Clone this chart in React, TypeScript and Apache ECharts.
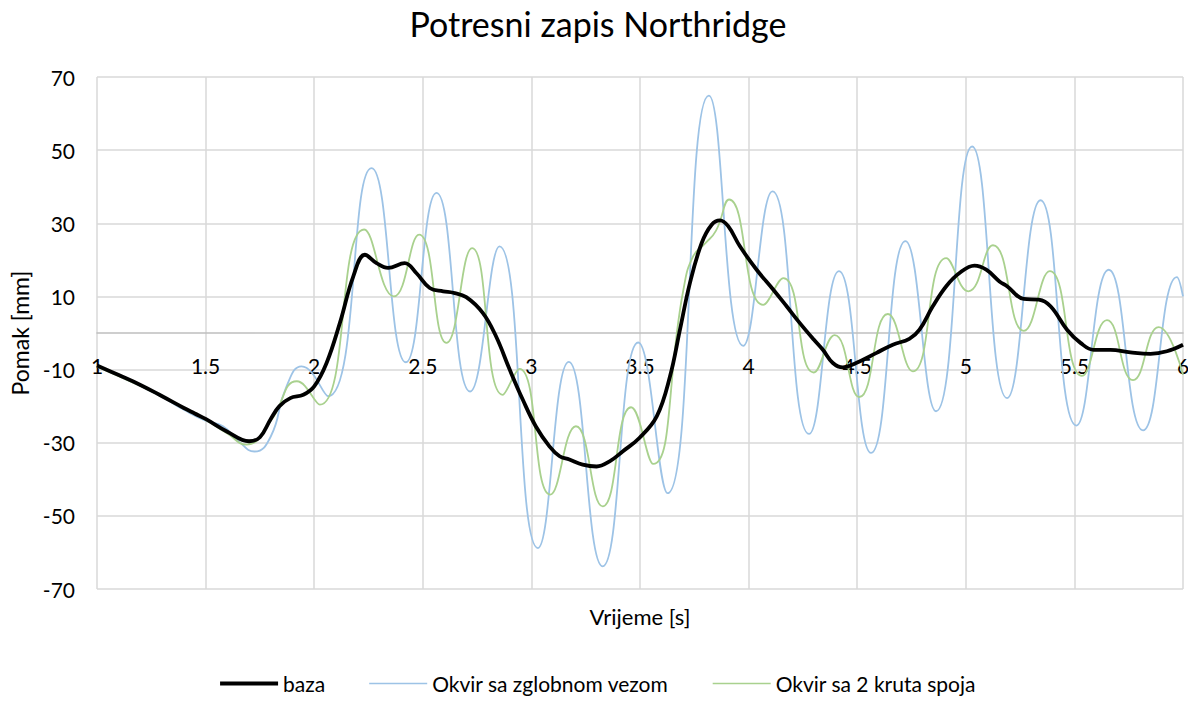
import React, { useEffect, useRef } from "react";
import * as echarts from "echarts";

const TITLE = "Potresni zapis Northridge";
const X_NAME = "Vrijeme [s]";
const Y_NAME = "Pomak [mm]";
const SERIES_NAMES = ["baza", "Okvir sa zglobnom vezom", "Okvir sa 2 kruta spoja"];

// baza
const bazaT = [1.0, 1.1, 1.2, 1.3, 1.4, 1.45, 1.5, 1.6, 1.7, 1.75, 1.8, 1.84, 1.89, 1.95, 2.0, 2.057, 2.118, 2.18, 2.233, 2.287, 2.34, 2.417, 2.47, 2.532, 2.594, 2.64, 2.7, 2.776, 2.837, 2.9, 2.96, 3.02, 3.083, 3.13, 3.175, 3.236, 3.3, 3.36, 3.42, 3.497, 3.577, 3.638, 3.684, 3.73, 3.784, 3.83, 3.868, 3.906, 3.96, 4.037, 4.113, 4.175, 4.236, 4.3, 4.342, 4.388, 4.434, 4.495, 4.587, 4.664, 4.74, 4.787, 4.848, 4.91, 4.971, 5.04, 5.094, 5.155, 5.19, 5.267, 5.336, 5.39, 5.466, 5.528, 5.589, 5.666, 5.758, 5.85, 5.926, 6.0];
const bazaV = [-8.9, -11.5, -14.2, -17.3, -20.5, -22.0, -23.5, -27.0, -29.6, -28.5, -23.5, -20.0, -17.8, -16.9, -14.6, -8.2, 2.7, 15.5, 21.4, 19.1, 17.8, 19.1, 16.4, 12.3, 11.4, 11.0, 9.8, 5.5, -0.9, -10.0, -18.2, -25.5, -31.0, -33.7, -34.6, -36.0, -36.5, -35.1, -32.4, -28.7, -22.8, -11.9, 0.9, 13.7, 24.6, 29.6, 30.8, 29.2, 23.7, 17.3, 11.9, 7.3, 2.7, -1.8, -4.6, -8.2, -9.4, -8.2, -5.5, -3.2, -1.6, 0.9, 7.3, 12.8, 16.4, 18.4, 17.3, 14.1, 12.8, 9.3, 9.1, 7.3, 0.9, -2.7, -4.6, -4.6, -5.3, -5.7, -5.0, -3.2];

// Okvir sa zglobnom vezom
const zglobT = [1.0, 1.1, 1.2, 1.3, 1.4, 1.5, 1.58, 1.65, 1.725, 1.8, 1.87, 1.942, 2.064, 2.264, 2.422, 2.563, 2.718, 2.853, 3.03, 3.172, 3.328, 3.492, 3.627, 3.817, 3.975, 4.11, 4.278, 4.416, 4.564, 4.722, 4.863, 5.029, 5.19, 5.344, 5.509, 5.658, 5.816, 5.972, 6.0];
const zglobV = [-9.0, -11.7, -14.5, -17.5, -21.0, -24.0, -25.5, -29.5, -32.4, -28.3, -15.0, -9.1, -17.3, 45.1, -8.0, 38.3, -16.0, 23.7, -58.8, -7.9, -63.8, -2.6, -43.8, 64.9, -3.5, 38.7, -27.6, 16.9, -32.8, 25.1, -21.4, 51.0, -17.8, 36.3, -25.3, 17.3, -26.6, 15.3, 10.0];

// Okvir sa 2 kruta spoja
const krutT = [1.0, 1.1, 1.2, 1.3, 1.4, 1.5, 1.6, 1.687, 1.8, 1.92, 2.026, 2.23, 2.367, 2.483, 2.609, 2.727, 2.868, 2.945, 3.087, 3.205, 3.328, 3.459, 3.561, 3.7, 3.745, 3.8, 3.85, 3.91, 4.067, 4.16, 4.3, 4.396, 4.51, 4.641, 4.756, 4.91, 5.012, 5.125, 5.267, 5.387, 5.535, 5.65, 5.77, 5.888, 6.0];
const krutV = [-9.2, -11.8, -14.5, -17.4, -20.7, -23.8, -27.5, -30.5, -24.0, -13.2, -19.6, 28.3, 10.0, 26.9, -2.7, 23.2, -16.9, -9.8, -44.2, -25.5, -47.4, -20.3, -35.8, 11.9, 21.0, 24.5, 28.0, 36.5, 7.7, 15.0, -10.8, -0.6, -17.5, 5.2, -10.5, 20.5, 11.4, 24.0, 0.6, 16.9, -11.7, 3.5, -12.9, 1.6, -11.4];

const pairs = (t: number[], v: number[]) => t.map((x, i) => [x, v[i]]);

export default function App() {
  const ref = useRef<HTMLDivElement>(null);
  useEffect(() => {
    if (!ref.current) return;
    const chart = echarts.init(ref.current, undefined, { renderer: "svg" });
    const font = "Lato, 'Noto Sans', sans-serif";
    const gridTop = 77;
    const gridBottom = 115;
    const gridLeft = 97;
    const gridRight = 13;
    const plotH = 704 - gridTop - gridBottom;
    const zeroOffset = -plotH / 2;
    const plotCenterX = gridLeft + (1196 - gridLeft - gridRight) / 2;
    chart.setOption({
      animation: false,
      backgroundColor: "#ffffff",
      textStyle: { fontFamily: font },
      title: {
        text: TITLE,
        left: "center",
        top: 1,
        textStyle: { fontFamily: font, fontSize: 34, fontWeight: "normal", color: "#000000" },
      },
      legend: {
        bottom: 5,
        left: "center",
        itemWidth: 58,
        itemHeight: 12,
        itemGap: 44,
        symbolKeepAspect: true,
        textStyle: { fontFamily: font, fontSize: 21, color: "#000000" },
        data: [
          { name: SERIES_NAMES[0], icon: "path://M0,0 H58 V4 H0 Z" },
          { name: SERIES_NAMES[1], icon: "path://M0,0 H58 V1.6 H0 Z" },
          { name: SERIES_NAMES[2], icon: "path://M0,0 H58 V1.6 H0 Z" },
        ],
      },
      grid: { left: gridLeft, right: gridRight, top: gridTop, bottom: gridBottom, containLabel: false },
      xAxis: {
        type: "value",
        min: 1,
        max: 6,
        interval: 0.5,
        offset: zeroOffset,
        axisLine: { show: true, onZero: false, lineStyle: { color: "#bfbfbf", width: 1.5 } },
        axisTick: { show: false },
        axisLabel: { fontFamily: font, fontSize: 21, color: "#000000", margin: 22 },
        splitLine: { show: true, lineStyle: { color: "#d9d9d9", width: 1.5 } },
      },
      yAxis: {
        type: "value",
        min: -70,
        max: 70,
        interval: 20,
        name: Y_NAME,
        nameLocation: "middle",
        nameGap: 64,
        nameTextStyle: { fontFamily: font, fontSize: 23, color: "#000000" },
        axisLine: { show: false },
        axisTick: { show: false },
        axisLabel: { fontFamily: font, fontSize: 21, color: "#000000", margin: 22 },
        splitLine: { show: true, lineStyle: { color: "#d9d9d9", width: 1.5 } },
      },
      graphic: [
        {
          type: "text",
          x: plotCenterX,
          y: 605,
          style: { text: X_NAME, fontFamily: font, fontSize: 22, fill: "#000000", align: "center", verticalAlign: "top" },
        },
      ],
      series: [
        {
          name: SERIES_NAMES[1],
          type: "line",
          data: pairs(zglobT, zglobV),
          smooth: 0.5,
          symbol: "none",
          z: 2,
          lineStyle: { color: "#9dc3e6", width: 1.8 },
          itemStyle: { color: "#9dc3e6" },
        },
        {
          name: SERIES_NAMES[2],
          type: "line",
          data: pairs(krutT, krutV),
          smooth: 0.5,
          symbol: "none",
          z: 3,
          lineStyle: { color: "#a9d18e", width: 1.8 },
          itemStyle: { color: "#a9d18e" },
        },
        {
          name: SERIES_NAMES[0],
          type: "line",
          data: pairs(bazaT, bazaV),
          smooth: 0.4,
          symbol: "none",
          z: 4,
          lineStyle: { color: "#000000", width: 3.8 },
          itemStyle: { color: "#000000" },
        },
      ],
    });
    return () => chart.dispose();
  }, []);
  return <div ref={ref} style={{ width: 1196, height: 704, margin: -8 }} />;
}
